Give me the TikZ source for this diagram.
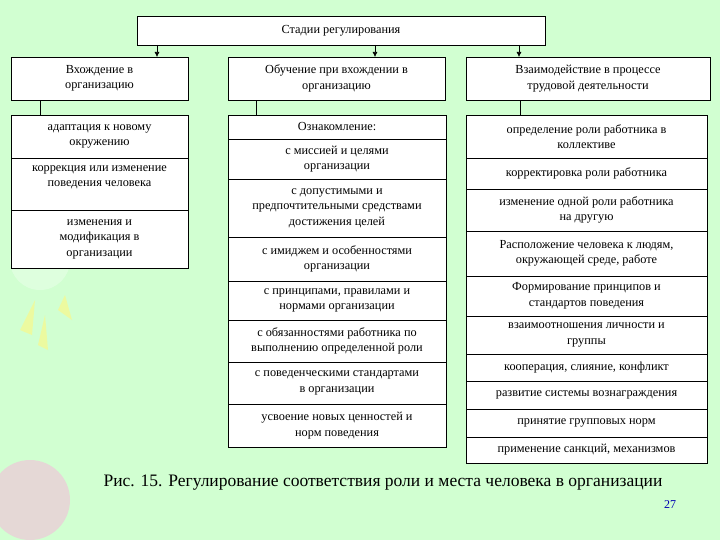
\documentclass[tikz,border=0pt]{standalone}
\usepackage{fontspec}
\setmainfont{Liberation Serif}
\usetikzlibrary{arrows.meta}
\begin{document}
\begin{tikzpicture}[x=1pt,y=-1pt,
  cell/.style={draw=black,fill=white,line width=0.6pt,inner sep=0pt},
  txt/.style={align=center,font=\fontsize{12.3}{15.5}\selectfont},
  conn/.style={line width=0.6pt},
  arr/.style={conn,-{Latex[length=5pt,width=5pt]}}]
\fill[fill=green!18] (0,0) rectangle (720,540);
\useasboundingbox (0,0) rectangle (720,540);
% decoration
\fill[white,opacity=0.3] (40,260) circle (30);
\fill[magenta!30,opacity=0.5] (30,500) circle (40);
\fill[yellow!50,opacity=0.6] (20,330) -- (35,300) -- (32,335) -- cycle;
\fill[yellow!50,opacity=0.6] (38,345) -- (45,315) -- (48,350) -- cycle;
\fill[yellow!50,opacity=0.6] (58,310) -- (65,295) -- (72,320) -- cycle;
% top
\node[cell,minimum width=408,minimum height=29,txt] (top) at (341,30.5) {Стадии регулирования};
\node[cell,minimum width=177,minimum height=43,txt] (l2a) at (99.5,78.5) {Вхождение в\\организацию};
\node[cell,minimum width=217,minimum height=43,txt] (l2b) at (336.5,78.5) {Обучение при вхождении в\\организацию};
\node[cell,minimum width=244,minimum height=43,txt] (l2c) at (588,78.5) {Взаимодействие в процессе\\трудовой деятельности};
\coordinate (ta) at (157,45); \coordinate (tb) at (375,45); \coordinate (tc) at (519,45);
\coordinate (ha) at (157,57); \coordinate (hb) at (375,57); \coordinate (hc) at (519,57);
\draw[arr] (ta) -- (ha);
\draw[arr] (tb) -- (hb);
\draw[arr] (tc) -- (hc);
% left column
\node[cell,minimum width=177,minimum height=43,txt] (a1) at (99.5,136.5) {адаптация к новому\\окружению};
\node[cell,minimum width=177,minimum height=52,txt,text depth=16pt] (a2) at (99.5,184) {коррекция или изменение\\поведения человека};
\node[cell,minimum width=177,minimum height=58,txt] (a3) at (99.5,239) {изменения и\\модификация в\\организации};
% middle
\node[cell,minimum width=218,minimum height=24,txt] (b1) at (337,127) {Ознакомление:};
\node[cell,minimum width=218,minimum height=40,txt] (b2) at (337,159) {с миссией и целями\\организации};
\node[cell,minimum width=218,minimum height=58,txt] (b3) at (337,208) {с допустимыми и\\предпочтительными средствами\\достижения целей};
\node[cell,minimum width=218,minimum height=44,txt] (b4) at (337,259) {с имиджем и особенностями\\организации};
\node[cell,minimum width=218,minimum height=39,txt] (b5) at (337,300.5) {с принципами, правилами и\\нормами организации};
\node[cell,minimum width=218,minimum height=42,txt] (b6) at (337,341) {с обязанностями работника по\\выполнению определенной роли};
\node[cell,minimum width=218,minimum height=42,txt] (b7) at (337,383) {с поведенческими стандартами\\в организации};
\node[cell,minimum width=218,minimum height=43,txt] (b8) at (337,425.5) {усвоение новых ценностей и\\норм поведения};
% right
\node[cell,minimum width=241,minimum height=43,txt] (c1) at (586.5,136.5) {определение роли работника в\\коллективе};
\node[cell,minimum width=241,minimum height=31,txt] (c2) at (586.5,173.5) {корректировка роли работника};
\node[cell,minimum width=241,minimum height=42,txt] (c3) at (586.5,210) {изменение одной роли работника\\на другую};
\node[cell,minimum width=241,minimum height=45,txt] (c4) at (586.5,253.5) {Расположение человека к людям,\\окружающей среде, работе};
\node[cell,minimum width=241,minimum height=40,txt] (c5) at (586.5,296) {Формирование принципов и\\стандартов поведения};
\node[cell,minimum width=241,minimum height=38,txt] (c6) at (586.5,335) {взаимоотношения личности и\\группы};
\node[cell,minimum width=241,minimum height=27,txt] (c7) at (586.5,367.5) {кооперация, слияние, конфликт};
\node[cell,minimum width=241,minimum height=28,txt] (c8) at (586.5,395) {развитие системы вознаграждения};
\node[cell,minimum width=241,minimum height=28,txt] (c9) at (586.5,423) {принятие групповых норм};
\node[cell,minimum width=241,minimum height=26,txt] (c10) at (586.5,450) {применение санкций, механизмов};
% connectors from level 2
\draw[conn] (l2a.south -| 40,0) -- (a1.north -| 40,0);
\draw[conn] (l2b.south -| 256,0) -- (b1.north -| 256,0);
\draw[conn] (l2c.south -| 520,0) -- (c1.north -| 520,0);
\node[font=\fontsize{17.5}{20}\selectfont] (cap) at (383,483) {Рис. 15. Регулирование соответствия роли и места человека в организации};
\node[font=\fontsize{12}{14}\selectfont,text=blue!70!black] (pg) at (670,505) {27};
\end{tikzpicture}
\end{document}
